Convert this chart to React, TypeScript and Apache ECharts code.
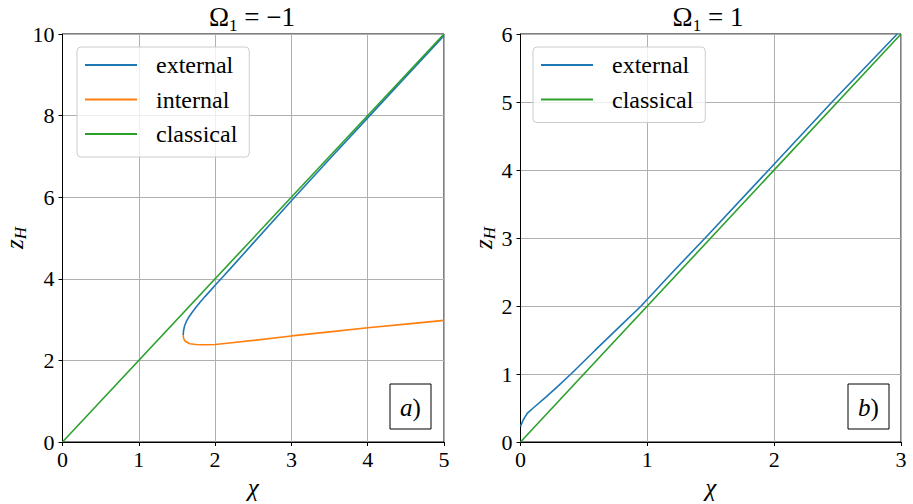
import React, { useEffect, useRef } from "react";
import * as echarts from "echarts";

// ---- data ----
const leftExternal: [number, number][] = [
  [1.582, 2.62], [1.586, 2.72], [1.6, 2.85], [1.625, 2.96], [1.652, 3.05],
  [1.7, 3.18], [1.75, 3.3], [1.8, 3.42], [1.87, 3.57], [1.95, 3.735],
  [2.0, 3.84], [2.1, 4.045], [2.2, 4.25], [2.5, 4.875], [3.0, 5.915],
  [3.5, 6.935], [4.0, 7.945], [4.5, 8.955], [5.0, 9.96],
];
const leftInternal: [number, number][] = [
  [1.582, 2.62], [1.586, 2.55], [1.6, 2.49], [1.625, 2.45], [1.67, 2.41],
  [1.75, 2.39], [1.83, 2.385], [1.9, 2.385], [2.0, 2.39], [2.25, 2.44],
  [2.5, 2.49], [3.0, 2.6], [3.5, 2.7], [4.0, 2.8], [4.5, 2.89], [5.0, 2.98],
];
const leftClassical: [number, number][] = [[0, 0], [5, 10]];

const rightExternal: [number, number][] = [
  [0, 0.23], [0.02, 0.32], [0.053, 0.42], [0.1, 0.5], [0.2, 0.66],
  [0.3, 0.83], [0.398, 1.0], [0.589, 1.35], [0.8, 1.73], [0.951, 2.0],
  [1.2, 2.5], [1.456, 3.0], [1.957, 4.0], [2.456, 5.0], [2.97, 6.0],
];
const rightClassical: [number, number][] = [[0, 0], [3, 6]];

const leftLegend = ["external", "internal", "classical"];
const rightLegend = ["external", "classical"];

const COLORS = { external: "#1f77b4", internal: "#ff7f0e", classical: "#2ca02c" };
const FONT = "'Liberation Serif', 'DejaVu Serif', serif";

export default function App() {
  const ref = useRef<HTMLDivElement>(null);
  useEffect(() => {
    if (!ref.current) return;
    const chart = echarts.init(ref.current, undefined, { renderer: "svg" });

    const tickRich = {
      t: { color: "#000", fontFamily: FONT, fontSize: 22, fontWeight: "normal" },
    };
    const tickLabel = (margin: number) => ({
      color: "#000",
      fontFamily: FONT,
      fontSize: 22,
      margin,
      formatter: (v: number) => `{t|${v}}`,
      rich: tickRich,
    });

    const axisCommon = {
      type: "value" as const,
      axisLine: { show: true, onZero: false, lineStyle: { color: "#000", width: 1 } },
      axisTick: { show: true, inside: false, length: 4, lineStyle: { color: "#000", width: 1 } },
      splitLine: { show: true, lineStyle: { color: "#b0b0b0", width: 1 } },
    };

    const titleRich = {
      a: { fontFamily: FONT, fontWeight: "normal", fontSize: 27, color: "#000", lineHeight: 34 },
      s: { fontFamily: FONT, fontWeight: "normal", fontSize: 17, color: "#000", lineHeight: 17, verticalAlign: "bottom" },
    };

    const yName = "{z|z}{h|H}";
    const yRich = {
      z: { fontFamily: FONT, fontStyle: "italic", fontSize: 25, color: "#000", lineHeight: 28 },
      h: { fontFamily: FONT, fontStyle: "italic", fontSize: 17, color: "#000", lineHeight: 17, verticalAlign: "bottom" },
    };

    const xName = "{c|χ}";
    const xRich = {
      c: { fontFamily: FONT, fontStyle: "italic", fontSize: 25, color: "#000" },
    };

    const legendCommon = {
      orient: "vertical" as const,
      top: 47,
      backgroundColor: "rgba(255,255,255,0.8)",
      borderColor: "#cccccc",
      borderWidth: 1,
      borderRadius: 4,
      padding: [5, 12, 10, 8],
      itemWidth: 52,
      itemHeight: 2,
      icon: "rect",
      itemGap: 8.5,
      textStyle: { fontFamily: FONT, fontSize: 24, color: "#000", lineHeight: 26, padding: [0, 0, 0, 14] },
    };

    const lineSeries = (name: string, data: [number, number][], idx: number) => ({
      type: "line" as const,
      name,
      data,
      xAxisIndex: idx,
      yAxisIndex: idx,
      showSymbol: false,
      symbol: "none",
      lineStyle: { width: 1.6, color: (COLORS as any)[name] },
      itemStyle: { color: (COLORS as any)[name] },
      z: 3,
    });

    const boxLabel = (letter: string, x: number, y: number) => ({
      type: "group",
      children: [
        {
          type: "rect",
          shape: { x, y, width: 41, height: 45 },
          style: { fill: "#fff", stroke: "#000", lineWidth: 1 },
          z: 10,
        },
        {
          type: "text",
          x: x + 20.5,
          y: y + 23,
          z: 11,
          style: {
            text: `{i|${letter}}{n|)}`,
            align: "center",
            verticalAlign: "middle",
            rich: {
              i: { fontFamily: FONT, fontStyle: "italic", fontSize: 25, fill: "#000" },
              n: { fontFamily: FONT, fontSize: 25, fill: "#000" },
            },
          },
        },
      ],
    });

    chart.setOption({
      animation: false,
      backgroundColor: "#fff",
      textStyle: { fontFamily: FONT, color: "#000" },
      title: [
        {
          text: "{a|Ω}{s|1}{a| = −1}",
          left: 252,
          top: 0,
          padding: 0,
          textAlign: "center",
          textStyle: { fontFamily: FONT, fontWeight: "normal", fontSize: 27, rich: titleRich },
        },
        {
          text: "{a|Ω}{s|1}{a| = 1}",
          left: 708,
          top: 0,
          padding: 0,
          textAlign: "center",
          textStyle: { fontFamily: FONT, fontWeight: "normal", fontSize: 27, rich: titleRich },
        },
      ],
      grid: [
        { left: 62.5, top: 34, width: 381.5, height: 408, show: true, borderColor: "#000", borderWidth: 1, outerBoundsMode: "none" },
        { left: 520.5, top: 34, width: 380.5, height: 408, show: true, borderColor: "#000", borderWidth: 1, outerBoundsMode: "none" },
      ],
      xAxis: [
        {
          ...axisCommon, gridIndex: 0, min: 0, max: 5, interval: 1,
          axisLabel: tickLabel(6),
          name: xName, nameLocation: "middle", nameGap: 31,
          nameTextStyle: { fontFamily: FONT, rich: xRich },
        },
        {
          ...axisCommon, gridIndex: 1, min: 0, max: 3, interval: 1,
          axisLabel: tickLabel(6),
          name: xName, nameLocation: "middle", nameGap: 31,
          nameTextStyle: { fontFamily: FONT, rich: xRich },
        },
      ],
      yAxis: [
        {
          ...axisCommon, gridIndex: 0, min: 0, max: 10, interval: 2,
          axisLabel: tickLabel(8),
          name: yName, nameLocation: "middle", nameGap: 30, nameRotate: 90,
          nameTextStyle: { fontFamily: FONT, rich: yRich },
        },
        {
          ...axisCommon, gridIndex: 1, min: 0, max: 6, interval: 1,
          axisLabel: tickLabel(8),
          name: yName, nameLocation: "middle", nameGap: 22, nameRotate: 90,
          nameTextStyle: { fontFamily: FONT, rich: yRich },
        },
      ],
      legend: [
        { ...legendCommon, left: 77, data: leftLegend },
        { ...legendCommon, left: 533, data: rightLegend },
      ],
      series: [
        lineSeries("external", leftExternal, 0),
        lineSeries("internal", leftInternal, 0),
        lineSeries("classical", leftClassical, 0),
        lineSeries("external", rightExternal, 1),
        lineSeries("classical", rightClassical, 1),
      ],
      graphic: [boxLabel("a", 390, 384), boxLabel("b", 848, 384)],
    });

    return () => chart.dispose();
  }, []);

  return (
    <div
      ref={ref}
      style={{ position: "fixed", left: 0, top: 0, width: 913, height: 504, background: "#fff" }}
    />
  );
}
